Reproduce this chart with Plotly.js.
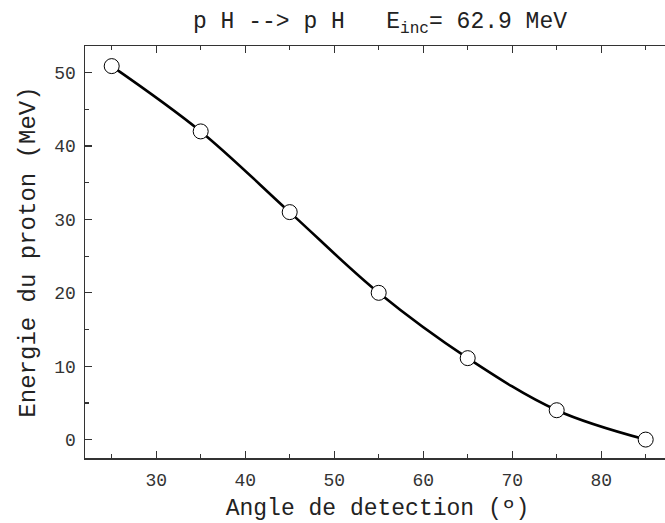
<!DOCTYPE html>
<html>
<head>
<meta charset="utf-8">
<script src="https://cdn.plot.ly/plotly-3.0.1.min.js"></script>
<style>html,body{margin:0;padding:0;overflow:hidden;background:#fff;}#chart{width:670px;height:523px;}</style>
</head>
<body>
<div id="chart"></div>
<script>
const angles = [25, 35, 45, 55, 65, 75, 85];
const energies = [50.9, 42.0, 31.0, 20.0, 11.1, 4.0, 0.0];
const titleText = 'p H --> p H&nbsp;&nbsp; E<sub>inc</sub>= 62.9 MeV';
const xTitle = 'Angle de detection (º)';
const yTitle = 'Energie du proton (MeV)';

const FONT = 'Liberation Mono, DejaVu Sans Mono, monospace';
const trace = {
  x: angles, y: energies, type: 'scatter', mode: 'lines+markers',
  line: {shape: 'spline', smoothing: 1, color: '#000', width: 2.6},
  marker: {symbol: 'circle', size: 15, color: '#fff', line: {color: '#000', width: 1}},
  hoverinfo: 'skip'
};
const axisCommon = {
  showgrid: false, zeroline: false, showline: true, linecolor: '#333', linewidth: 1.5,
  ticks: 'inside', ticklen: 7, tickwidth: 1.2, tickcolor: '#333',
  tickfont: {family: FONT, size: 18, color: '#333'},
  minor: {ticks: 'inside', ticklen: 4, tickwidth: 1.2, tickcolor: '#333', dtick: 5}
};
const layout = {
  width: 670, height: 523,
  margin: {l: 85, r: 0, t: 46, b: 65},
  paper_bgcolor: '#fff', plot_bgcolor: '#fff',
  showlegend: false,
  title: {text: titleText, font: {family: FONT, size: 23, color: '#222'}, xref: 'container', x: 380 / 670, xanchor: 'center', y: 0.962, yanchor: 'middle'},
  xaxis: Object.assign({}, axisCommon, {
    mirror: 'allticks',
    range: [22.0, 22.0 + 585 / 8.9], tick0: 0, dtick: 10,
    title: {text: xTitle, font: {family: FONT, size: 23, color: '#222'}, standoff: 9},
    ticklabelstandoff: 5
  }),
  yaxis: Object.assign({}, axisCommon, {
    mirror: false,
    range: [-2.51, 53.64], tick0: 0, dtick: 10,
    title: {text: yTitle, font: {family: FONT, size: 24, color: '#222'}, standoff: 12},
    ticklabelstandoff: 4
  })
};
Plotly.newPlot('chart', [trace], layout, {displayModeBar: false, staticPlot: true});
</script>
</body>
</html>
